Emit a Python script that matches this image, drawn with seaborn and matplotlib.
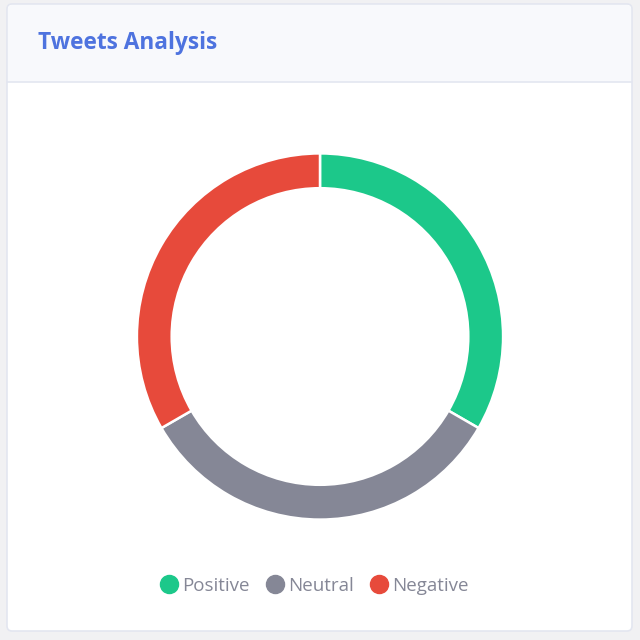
import matplotlib.pyplot as plt
import seaborn as sns
from matplotlib.patches import FancyBboxPatch, Rectangle
from matplotlib.lines import Line2D

# data
labels = ["Positive", "Neutral", "Negative"]
values = [1, 1, 1]
colors = ["#1cc88a", "#858796", "#e74a3b"]

sns.set_theme(style="white")
sns.set_palette(colors)
plt.rcParams['font.family'] = ['Open Sans', 'DejaVu Sans']

W = H = 640
fig = plt.figure(figsize=(6.4, 6.4), dpi=100)
fig.patch.set_facecolor("#f1f1f3")

def px(x, y):
    # pixel (from top-left) -> figure fraction
    return x / W, 1 - y / H

# card body
card_l, card_t, card_r, card_b = 7, 4, 632, 631
x0, y0 = px(card_l, card_b)
card = FancyBboxPatch((x0, y0), (card_r - card_l) / W, (card_b - card_t) / H,
                      boxstyle="round,pad=0,rounding_size=0.008",
                      transform=fig.transFigure, facecolor="white",
                      edgecolor="#e3e6f0", linewidth=1.2, zorder=0)
fig.patches.append(card)

# header strip
hx, hy = px(card_l + 1, 82)
header = FancyBboxPatch((hx, hy), (card_r - card_l - 2) / W, (82 - card_t - 1) / H,
                        boxstyle="round,pad=0,rounding_size=0.007",
                        transform=fig.transFigure, facecolor="#f8f9fc",
                        edgecolor="none", zorder=1)
fig.patches.append(header)
fig.patches.append(Rectangle((hx, hy), (card_r - card_l - 2) / W, 10 / H,
                             transform=fig.transFigure, facecolor="#f8f9fc",
                             edgecolor="none", zorder=1))
fig.add_artist(Line2D([px(card_l, 0)[0], px(card_r, 0)[0]], [hy, hy],
                      transform=fig.transFigure, color="#e3e6f0", lw=1.2, zorder=2))

tx, ty = px(38, 43)
fig.text(tx, ty, "Tweets Analysis", color="#4e73df", fontsize=16.3,
         fontweight="bold", va="center", ha="left", zorder=3)

# donut
cx, cy, r = 320, 336.5, 184
ax = fig.add_axes([(cx - r) / W, 1 - (cy + r) / H, 2 * r / W, 2 * r / H])
ax.set_zorder(5)
ax.patch.set_alpha(0)
ax.pie(values, colors=colors, startangle=90, counterclock=False, radius=1,
       wedgeprops=dict(width=0.19, edgecolor="white", linewidth=1.8))
ax.set_xlim(-1.005, 1.005)
ax.set_ylim(-1.005, 1.005)
ax.set_aspect("equal")
ax.axis("off")

# legend
handles = [Line2D([], [], marker="o", linestyle="none", markersize=13,
                  markerfacecolor=c, markeredgecolor=c) for c in colors]
lx, ly = px(314, 586)
leg = fig.legend(handles, labels, loc="center", bbox_to_anchor=(lx, ly), ncol=3,
                 frameon=False, fontsize=13.5, labelcolor="#858796",
                 handletextpad=0.2, columnspacing=0.85, handlelength=1.0)
leg.set_zorder(6)

fig.savefig("out.png", dpi=100, facecolor=fig.get_facecolor())
